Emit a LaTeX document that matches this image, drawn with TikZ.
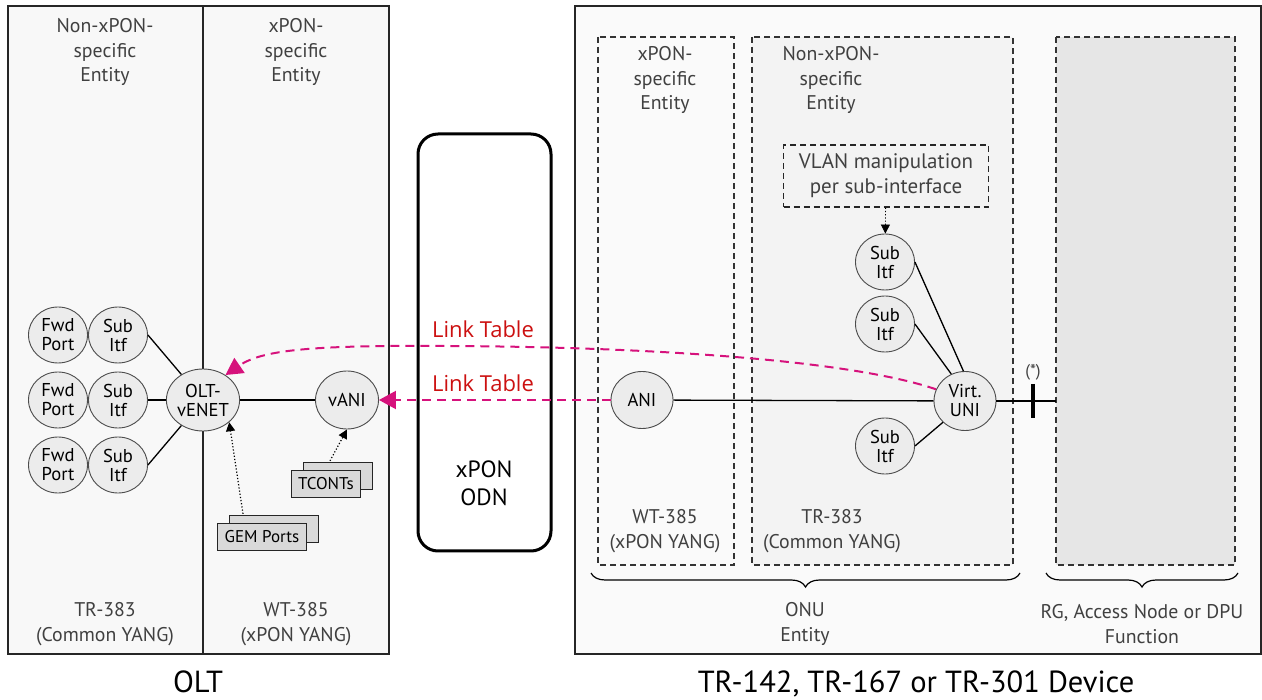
\documentclass[tikz,border=0pt]{standalone}
\usepackage{fontspec}
\setmainfont{PT Sans}
\newfontfamily\linkfont{Open Sans}
\usetikzlibrary{shapes.geometric,arrows.meta,decorations.pathreplacing,shadows,positioning}

\definecolor{panelfill}{RGB}{248,248,248}
\definecolor{onufill}{RGB}{243,243,243}
\definecolor{rgfill}{RGB}{230,230,230}
\definecolor{nodefill}{RGB}{236,236,236}
\definecolor{stackfill}{RGB}{217,217,217}
\definecolor{labelgray}{RGB}{64,64,64}
\definecolor{linkpink}{RGB}{214,18,124}
\definecolor{linkred}{RGB}{204,16,16}

\begin{document}
\begin{tikzpicture}[x=1pt,y=-1pt,
		panel/.style={draw=black!85,line width=1.4pt,fill=panelfill},
		sub box/.style={draw=black!80,line width=1.3pt,dash pattern=on 6pt off 4pt},
		panel label/.style={align=center,text=labelgray,font=\fontsize{19.8}{24.5}\selectfont,inner sep=0pt},
		itf node/.style={ellipse,draw=black!70,line width=0.9pt,fill=nodefill,minimum width=59pt,minimum height=56pt,inner sep=0pt,align=center,font=\fontsize{18.6}{19}\selectfont},
		stack box/.style={draw=black!85,line width=1.3pt,fill=stackfill,inner sep=0pt,minimum height=27pt,font=\fontsize{17}{18}\selectfont,copy shadow={shadow xshift=12pt,shadow yshift=8pt}},
		link/.style={draw=linkpink,line width=2pt,dash pattern=on 9pt off 6pt,-{Triangle[length=17pt,width=18pt]}},
		link label/.style={text=linkred,font=\linkfont\fontsize{22}{24}\selectfont,inner sep=0pt},
		dot arrow/.style={line width=1.2pt,dotted,-{Triangle[length=9pt,width=9pt]}},
		wire/.style={line width=1.3pt}
		]
		\useasboundingbox (0,0) rectangle (1262,700);
		
		% OLT
		\draw[panel] (8,6) rectangle (203,654);
		\draw[panel] (203,6) rectangle (389,654);
		\node[panel label] (oltnonxpon) at (105,52) {Non-xPON-\\specific\\Entity};
		\node[panel label] (oltxpon) at (296,52) {xPON-\\specific\\Entity};
		\node[panel label] (oltcommon) at (105,624) {TR-383\\(Common YANG)};
		\node[panel label] (oltwt) at (296,624) {WT-385\\(xPON YANG)};
		\node[font=\fontsize{30.5}{32}\selectfont,anchor=base,inner sep=0pt] (oltname) at (198,692) {OLT};
		
		% device
		\draw[panel,fill=black!2] (575,6) rectangle (1261,654);
		\draw[sub box] (598,37) rectangle (734,565);
		\draw[sub box,fill=onufill] (752,37) rectangle (1013,565);
		\draw[sub box,fill=rgfill] (1056,37) rectangle (1235,565);
		\node[panel label] (onuxpon) at (665,80) {xPON-\\specific\\Entity};
		\node[panel label] (onunonxpon) at (831,80) {Non-xPON-\\specific\\Entity};
		\node[panel label] (onuwt) at (665,531) {WT-385\\(xPON YANG)};
		\node[panel label] (onucommon) at (832,531) {TR-383\\(Common YANG)};
		\draw[line width=1.2pt,decorate,decoration={brace,mirror,amplitude=14pt}] (591,573) -- (1020,573);
		\draw[line width=1.2pt,decorate,decoration={brace,mirror,amplitude=14pt}] (1046,573) -- (1238,573);
		\node[panel label] (onuent) at (805,624) {ONU\\Entity};
		\node[panel label] (rgfunc) at (1142,624) {RG, Access Node or DPU\\Function};
		\node[font=\fontsize{30.5}{32}\selectfont,anchor=base,inner sep=0pt] (devname) at (916,692) {TR-142, TR-167 or TR-301 Device};
		
		% ODN
		\draw[line width=3pt,rounded corners=20pt] (418,134) rectangle (551,551);
		\node[align=center,font=\fontsize{23.5}{28}\selectfont] (odn) at (484,483) {xPON\\ODN};
		
		% OLT side nodes
		\node[itf node,minimum width=66pt,minimum height=62pt] (olt) at (203,400) {OLT-\\vENET};
		\node[itf node,minimum width=63pt,minimum height=58pt] (vani) at (347,400) {vANI};
		\foreach \i/\y in {1/335,2/400,3/465} {
			\node[itf node] (fwd\i) at (58,\y) {Fwd\\Port};
			\node[itf node] (sub\i) at (118,\y) {Sub\\Itf};
			\draw[wire] (sub\i.east) -- (olt);
		}
		\draw[wire] (olt) -- (vani);
		\node[stack box,minimum width=69pt] (tconts) at (326,484) {TCONTs};
		\node[stack box,minimum width=89pt] (gem) at (262,537) {GEM Ports};
		\draw[dot arrow] (gem.north) ++(-19,-9) coordinate (gemtop) -- (olt.south east) ;
		\draw[dot arrow] (tconts.north) ++(4,-9) coordinate (tctop) -- (vani.south);
		
		% ONU side nodes
		\node[itf node,minimum width=62pt,minimum height=57pt] (ani) at (642,400) {ANI};
		\node[itf node,minimum width=62pt,minimum height=59pt] (vuni) at (965,401) {Virt.\\UNI};
		\node[itf node] (osub1) at (885,262) {Sub\\Itf};
		\node[itf node] (osub2) at (885,324) {Sub\\Itf};
		\node[itf node] (osub3) at (885,446) {Sub\\Itf};
		\node[draw=black!85,line width=1.5pt,dash pattern=on 6pt off 4pt,fill=onufill,minimum width=205pt,minimum height=62pt,panel label,font=\fontsize{21}{25}\selectfont] (vlan) at (886,176) {VLAN manipulation\\per sub-interface};
		\draw[dot arrow,line width=0.8pt] (vlan) -- (osub1);
		\draw[wire] (ani) -- (vuni);
		\draw[wire] (osub1.east) -- (vuni.93);
		\draw[wire] (osub2.east) -- (vuni.117);
		\draw[wire] (osub3.east) -- (vuni.224);
		\coordinate (rgedge) at (1056,401);
		\coordinate (itfmark) at (1033,401);
		\draw[wire] (vuni) -- (rgedge);
		\draw[line width=4pt] (itfmark) ++(0,-17) -- ++(0,34);
		\node[text=labelgray,font=\fontsize{17}{18}\selectfont] (star) at (1033,372) {(*)};
		
		% link tables
		\draw[link] (ani) -- (vani);
		\draw[link] (vuni.158) .. controls (850,360) and (650,347) .. (450,346) .. controls (310,345) and (262,350) .. (olt.48);
		\node[link label] (lt1) at (483,329) {Link Table};
		\node[link label] (lt2) at (483,383) {Link Table};
\end{tikzpicture}
\end{document}
